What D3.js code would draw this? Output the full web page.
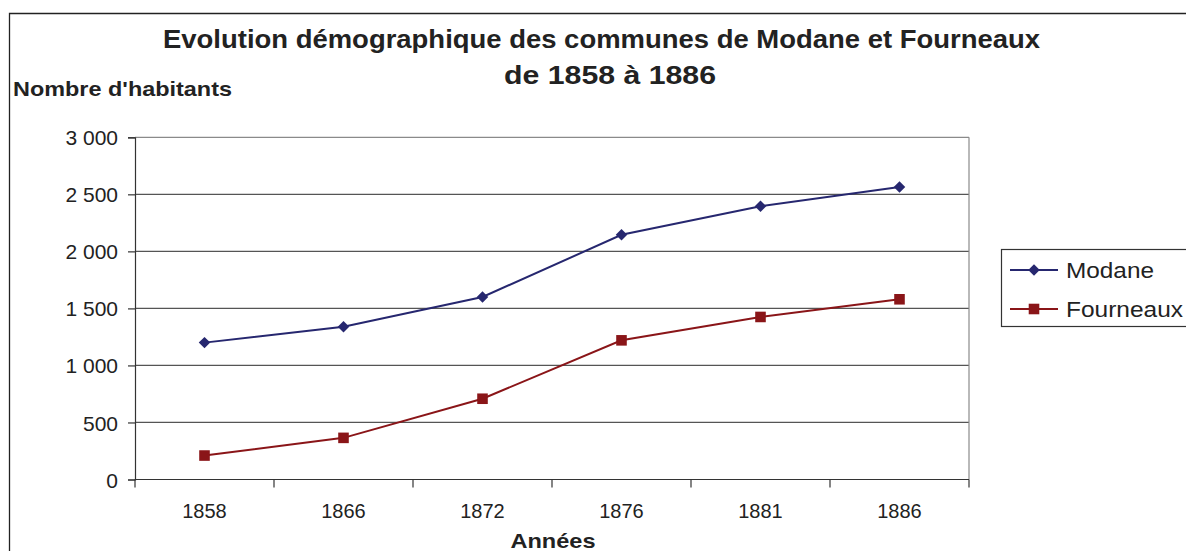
<!DOCTYPE html>
<html>
<head>
<meta charset="utf-8">
<script src="https://cdn.jsdelivr.net/npm/d3@7/dist/d3.min.js"></script>
<style>
  html, body { margin: 0; padding: 0; background: #fff; }
  svg { display: block; font-family: "Liberation Sans", Arial, sans-serif; }
</style>
</head>
<body>
<svg id="chart" width="1186" height="551"></svg>
<script>
// Population of the communes of Modane and Fourneaux, census years 1858-1886
const years = ["1858", "1866", "1872", "1876", "1881", "1886"];
const modane = [1200, 1340, 1600, 2145, 2395, 2565];
const fourneaux = [210, 365, 708, 1220, 1425, 1580];
const yTicks = [0, 500, 1000, 1500, 2000, 2500, 3000];

const seriesNames = ["Modane", "Fourneaux"];
const seriesColors = ["#26276f", "#8a1518"];

const svg = d3.select("#chart");
const textColor = "#222";

// French number format: "3 000"
const fr = d3.formatLocale({ decimal: ",", thousands: " ", grouping: [3], currency: ["", " €"] });
const fmt = fr.format(",d");

// Plot area
const plotLeft = 135, plotRight = 969, plotTop = 137.3, plotBottom = 479.5;

const x = d3.scaleBand().domain(years).range([plotLeft, plotRight]).padding(0);
const y = d3.scaleLinear().domain([0, 3000]).range([plotBottom, plotTop]);

// Outer chart frame (runs past the right and bottom edges)
svg.append("path")
  .attr("d", `M9.5,600 V13.5 H1200`)
  .attr("fill", "none").attr("stroke", "#222").attr("stroke-width", 1.3);

// Horizontal gridlines
svg.append("g").selectAll("line").data(yTicks.filter(d => d > 0)).join("line")
  .attr("x1", plotLeft).attr("x2", plotRight)
  .attr("y1", d => y(d)).attr("y2", d => y(d))
  .attr("stroke", d => d === 3000 ? "#8a8a8a" : "#555").attr("stroke-width", 1.2);

// Right edge of plot area
svg.append("line")
  .attr("x1", plotRight).attr("x2", plotRight).attr("y1", plotTop).attr("y2", plotBottom)
  .attr("stroke", "#8a8a8a").attr("stroke-width", 1.2);

// Y axis
const yAxis = svg.append("g").attr("transform", `translate(${plotLeft},0)`)
  .call(d3.axisLeft(y).tickValues(yTicks).tickFormat(fmt).tickSize(7).tickPadding(10));
yAxis.select(".domain").attr("stroke", "#333").attr("stroke-width", 1.2);
yAxis.selectAll(".tick line").attr("stroke", "#333").attr("stroke-width", 1.2);
yAxis.selectAll(".tick text")
  .attr("fill", textColor).attr("font-size", 21).attr("dy", "0.36em");

// X axis: labels centred in each band, tick marks on band boundaries
const xAxis = svg.append("g").attr("transform", `translate(0,${plotBottom})`)
  .call(d3.axisBottom(x).tickSize(0).tickPadding(24));
xAxis.select(".domain").remove();
xAxis.selectAll(".tick text").attr("fill", textColor).attr("font-size", 20);

svg.append("line")
  .attr("x1", plotLeft).attr("x2", plotRight).attr("y1", plotBottom).attr("y2", plotBottom)
  .attr("stroke", "#333").attr("stroke-width", 1.2);
const bounds = d3.range(years.length + 1).map(i => x.range()[0] + i * x.step());
svg.append("g").selectAll("line").data(bounds).join("line")
  .attr("x1", d => d).attr("x2", d => d)
  .attr("y1", plotBottom).attr("y2", plotBottom + 8)
  .attr("stroke", "#333").attr("stroke-width", 1.2);

// Series lines and markers
const data = [modane, fourneaux];
const line = d3.line().x((d, i) => x(years[i]) + x.bandwidth() / 2).y(d => y(d));
const diamond = d3.symbol().type(d3.symbolSquare).size(66);
const square = d3.symbol().type(d3.symbolSquare).size(112);

data.forEach((vals, s) => {
  svg.append("path").datum(vals)
    .attr("d", line).attr("fill", "none")
    .attr("stroke", seriesColors[s]).attr("stroke-width", 2);
  svg.append("g").selectAll("path").data(vals).join("path")
    .attr("d", s === 0 ? diamond : square)
    .attr("transform", (d, i) => `translate(${x(years[i]) + x.bandwidth() / 2},${y(d)})` + (s === 0 ? " rotate(45)" : ""))
    .attr("fill", seriesColors[s]);
});

// Titles
const title = svg.append("g")
  .attr("font-weight", "bold").attr("font-size", 25).attr("fill", textColor);
title.append("text").attr("text-anchor", "middle").attr("x", 601.5).attr("y", 48)
  .attr("textLength", 877).attr("lengthAdjust", "spacingAndGlyphs")
  .text("Evolution démographique des communes de Modane et Fourneaux");
title.append("text").attr("text-anchor", "middle").attr("x", 610).attr("y", 84)
  .attr("textLength", 212).attr("lengthAdjust", "spacingAndGlyphs")
  .text("de 1858 à 1886");

svg.append("text").attr("x", 13).attr("y", 96)
  .attr("font-weight", "bold").attr("font-size", 21).attr("fill", textColor)
  .attr("textLength", 219).attr("lengthAdjust", "spacingAndGlyphs")
  .text("Nombre d'habitants");

svg.append("text").attr("x", 553).attr("y", 548).attr("text-anchor", "middle")
  .attr("font-weight", "bold").attr("font-size", 21).attr("fill", textColor)
  .attr("textLength", 85).attr("lengthAdjust", "spacingAndGlyphs")
  .text("Années");

// Legend
const legend = svg.append("g");
legend.append("rect")
  .attr("x", 1001.5).attr("y", 249.5).attr("width", 220).attr("height", 77)
  .attr("fill", "#fff").attr("stroke", "#333").attr("stroke-width", 1.2);
const legendY = [270, 309];
const legendWidths = [88, 117];
seriesNames.forEach((name, s) => {
  legend.append("line")
    .attr("x1", 1010).attr("x2", 1058).attr("y1", legendY[s]).attr("y2", legendY[s])
    .attr("stroke", seriesColors[s]).attr("stroke-width", 2);
  legend.append("path")
    .attr("d", s === 0 ? diamond : square)
    .attr("transform", `translate(1034,${legendY[s]})` + (s === 0 ? " rotate(45)" : ""))
    .attr("fill", seriesColors[s]);
  legend.append("text").attr("x", 1066).attr("y", legendY[s] + 8)
    .attr("font-size", 22).attr("fill", textColor)
    .attr("textLength", legendWidths[s]).attr("lengthAdjust", "spacingAndGlyphs")
    .text(name);
});
</script>
</body>
</html>
